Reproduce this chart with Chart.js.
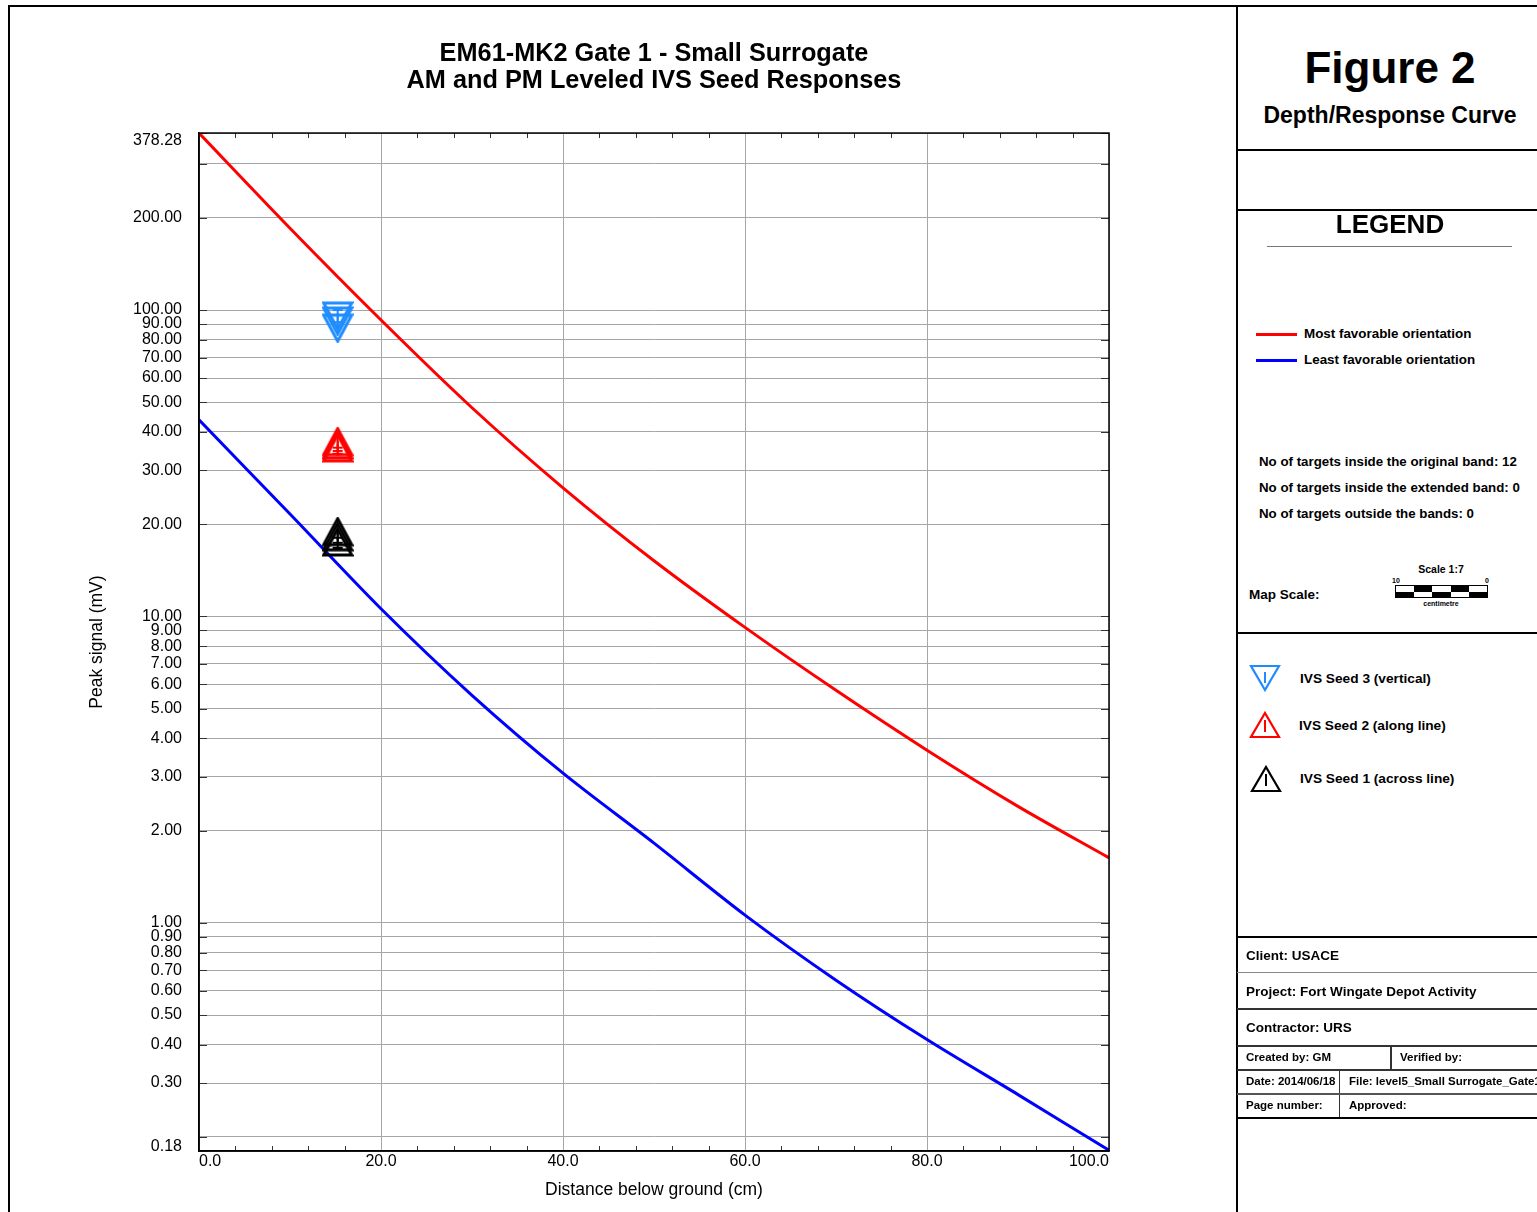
<!DOCTYPE html>
<html><head><meta charset="utf-8">
<script src="https://cdn.jsdelivr.net/npm/chart.js@4.4.1/dist/chart.umd.min.js"></script>
<style>
html,body{margin:0;padding:0;background:#fff;}
body{width:1537px;height:1212px;position:relative;overflow:hidden;font-family:"Liberation Sans",Arial,sans-serif;color:#000;}
#c{position:absolute;left:0;top:0;}
.ln{position:absolute;background:#000;}
.t{position:absolute;font-weight:bold;white-space:nowrap;line-height:1.15;transform:translateY(-50%);}
.tc{position:absolute;font-weight:bold;white-space:nowrap;line-height:1.15;transform:translate(-50%,-50%);}
.sb{position:absolute;width:18.2px;height:5.5px;}
</style></head>
<body>
<canvas id="c" width="1237" height="1212"></canvas>

<!-- frame -->
<div class="ln" style="left:8px;top:5px;width:1.5px;height:1207px;"></div>
<div class="ln" style="left:8px;top:5px;width:1529px;height:1.5px;"></div>
<div class="ln" style="left:1236px;top:5px;width:2px;height:1207px;"></div>

<!-- right panel -->
<div class="tc" style="left:1390px;top:68px;font-size:44px;">Figure 2</div>
<div class="tc" style="left:1390px;top:115px;font-size:23px;">Depth/Response Curve</div>
<div class="ln" style="left:1237px;top:149px;width:300px;height:2px;"></div>
<div class="ln" style="left:1237px;top:209px;width:300px;height:2px;"></div>
<div class="tc" style="left:1390px;top:225px;font-size:26px;">LEGEND</div>
<div class="ln" style="left:1267px;top:246px;width:245px;height:1px;background:#777;"></div>

<div class="ln" style="left:1256px;top:332.5px;width:41px;height:3px;background:#ff0000;"></div>
<div class="t" style="left:1304px;top:334px;font-size:13.4px;">Most favorable orientation</div>
<div class="ln" style="left:1256px;top:358.5px;width:41px;height:3px;background:#0000ff;"></div>
<div class="t" style="left:1304px;top:360px;font-size:13.4px;">Least favorable orientation</div>

<div class="t" style="left:1259px;top:462px;font-size:13.3px;">No of targets inside the original band: 12</div>
<div class="t" style="left:1259px;top:488px;font-size:13.3px;">No of targets inside the extended band: 0</div>
<div class="t" style="left:1259px;top:514px;font-size:13.3px;">No of targets outside the bands: 0</div>

<div class="tc" style="left:1441px;top:569px;font-size:10.5px;">Scale 1:7</div>
<div class="tc" style="left:1396px;top:581px;font-size:7px;">10</div>
<div class="tc" style="left:1487px;top:581px;font-size:7px;">0</div>
<div style="position:absolute;left:1395px;top:585px;width:91px;height:11px;border:1px solid #000;">
  <div class="sb" style="left:0;top:0;background:#fff;"></div>
  <div class="sb" style="left:18.2px;top:0;background:#000;"></div>
  <div class="sb" style="left:36.4px;top:0;background:#fff;"></div>
  <div class="sb" style="left:54.6px;top:0;background:#000;"></div>
  <div class="sb" style="left:72.8px;top:0;background:#fff;"></div>
  <div class="sb" style="left:0;top:5.5px;background:#000;"></div>
  <div class="sb" style="left:18.2px;top:5.5px;background:#fff;"></div>
  <div class="sb" style="left:36.4px;top:5.5px;background:#000;"></div>
  <div class="sb" style="left:54.6px;top:5.5px;background:#fff;"></div>
  <div class="sb" style="left:72.8px;top:5.5px;background:#000;"></div>
</div>
<div class="tc" style="left:1441px;top:604px;font-size:7px;">centimetre</div>
<div class="t" style="left:1249px;top:595px;font-size:13.5px;">Map Scale:</div>
<div class="ln" style="left:1237px;top:632px;width:300px;height:2px;"></div>

<svg style="position:absolute;left:1249px;top:664px;" width="32" height="28">
  <polygon points="2,2 30,2 16,26" fill="none" stroke="#1e8cff" stroke-width="2.2"/>
  <line x1="16" y1="8" x2="16" y2="19" stroke="#1e8cff" stroke-width="2"/>
</svg>
<div class="t" style="left:1300px;top:679px;font-size:13.7px;">IVS Seed 3 (vertical)</div>
<svg style="position:absolute;left:1249px;top:711px;" width="32" height="28">
  <polygon points="16,2 30,26 2,26" fill="none" stroke="#ff0000" stroke-width="2.2"/>
  <line x1="16" y1="9" x2="16" y2="21" stroke="#ff0000" stroke-width="2"/>
</svg>
<div class="t" style="left:1299px;top:726px;font-size:13.7px;">IVS Seed 2 (along line)</div>
<svg style="position:absolute;left:1250px;top:765px;" width="32" height="28">
  <polygon points="16,2 30,26 2,26" fill="none" stroke="#000" stroke-width="2.2"/>
  <line x1="16" y1="9" x2="16" y2="21" stroke="#000" stroke-width="2"/>
</svg>
<div class="t" style="left:1300px;top:779px;font-size:13.7px;">IVS Seed 1 (across line)</div>

<div class="ln" style="left:1237px;top:936px;width:300px;height:2px;"></div>
<div class="t" style="left:1246px;top:956px;font-size:13.5px;">Client: USACE</div>
<div class="ln" style="left:1237px;top:972px;width:300px;height:1px;background:#888;"></div>
<div class="t" style="left:1246px;top:992px;font-size:13.5px;">Project: Fort Wingate Depot Activity</div>
<div class="ln" style="left:1237px;top:1008px;width:300px;height:1.5px;background:#333;"></div>
<div class="t" style="left:1246px;top:1028px;font-size:13.5px;">Contractor: URS</div>
<div class="ln" style="left:1237px;top:1045px;width:300px;height:1.5px;background:#333;"></div>
<div class="t" style="left:1246px;top:1058px;font-size:11.5px;">Created by: GM</div>
<div class="ln" style="left:1390px;top:1045px;width:1.5px;height:25px;background:#333;"></div>
<div class="t" style="left:1400px;top:1058px;font-size:11.5px;">Verified by:</div>
<div class="ln" style="left:1237px;top:1069px;width:300px;height:1.5px;background:#333;"></div>
<div class="t" style="left:1246px;top:1082px;font-size:11.5px;">Date: 2014/06/18</div>
<div class="ln" style="left:1338.5px;top:1069px;width:1.5px;height:49px;background:#333;"></div>
<div style="position:absolute;left:1340px;top:1070px;width:197px;height:24px;overflow:hidden;">
  <div class="t" style="left:9px;top:12px;font-size:11.5px;">File: level5_Small Surrogate_Gate1</div>
</div>
<div class="ln" style="left:1237px;top:1093px;width:300px;height:1.5px;background:#555;"></div>
<div class="t" style="left:1246px;top:1106px;font-size:11.5px;">Page number:</div>
<div class="t" style="left:1349px;top:1106px;font-size:11.5px;">Approved:</div>
<div class="ln" style="left:1237px;top:1117px;width:300px;height:2px;"></div>

<script>
// ---------- data ----------
const depthCm = [0, 10, 20, 30, 40, 50, 60, 70, 80, 90, 100];
const mostFavorable = [378.28, 185, 92.8, 48.0, 26.3, 15.2, 9.21, 5.74, 3.66, 2.40, 1.63];
const leastFavorable = [43.8, 21.6, 10.6, 5.53, 3.08, 1.82, 1.06, 0.65, 0.416, 0.275, 0.181];

const seedDepth = [15.24, 15.24, 15.24];
const seed3Vertical = [95.6, 92.1, 87.3];
const seed2AlongLine = [37.2, 36.3, 35.5];
const seed1AcrossLine = [18.9, 18.2, 17.5];

const xTickValues = [0, 20, 40, 60, 80, 100];
const xTickLabels = ['0.0', '20.0', '40.0', '60.0', '80.0', '100.0'];
const xMinorTicks = [4, 8, 12, 16, 24, 28, 32, 36, 44, 48, 52, 56, 64, 68, 72, 76, 84, 88, 92, 96];
const yTickValues = [0.18, 0.2, 0.3, 0.4, 0.5, 0.6, 0.7, 0.8, 0.9, 1, 2, 3, 4, 5, 6, 7, 8, 9, 10, 20, 30, 40, 50, 60, 70, 80, 90, 100, 200, 300, 378.28];
const yTickLabels = ['0.18', '', '0.30', '0.40', '0.50', '0.60', '0.70', '0.80', '0.90', '1.00', '2.00', '3.00', '4.00', '5.00', '6.00', '7.00', '8.00', '9.00', '10.00', '20.00', '30.00', '40.00', '50.00', '60.00', '70.00', '80.00', '90.00', '100.00', '200.00', '', '378.28'];

// ---------- marker glyphs ----------
function triGlyph(color, down) {
  const c = document.createElement('canvas');
  c.width = 32; c.height = 30;
  const g = c.getContext('2d');
  g.strokeStyle = color; g.lineWidth = 3; g.lineJoin = 'miter';
  g.beginPath();
  if (down) { g.moveTo(2, 2); g.lineTo(30, 2); g.lineTo(16, 28); }
  else { g.moveTo(16, 2); g.lineTo(30, 28); g.lineTo(2, 28); }
  g.closePath(); g.stroke();
  g.lineWidth = 2;
  g.beginPath();
  if (down) { g.moveTo(16, 7); g.lineTo(16, 19); g.moveTo(11, 9); g.lineTo(21, 9); }
  else { g.moveTo(16, 11); g.lineTo(16, 23); g.moveTo(11, 21); g.lineTo(21, 21); }
  g.stroke();
  return c;
}

const pts = (xs, ys) => xs.map((x, i) => ({x: x, y: ys[i]}));

Chart.defaults.font.family = "'Liberation Sans', Arial, sans-serif";
Chart.defaults.color = '#000';

const innerTicks = {
  id: 'innerTicks',
  beforeDatasetsDraw(chart) {
    const {ctx, chartArea: a, scales: {x, y}} = chart;
    ctx.save();
    ctx.strokeStyle = '#333';
    ctx.lineWidth = 1;
    ctx.beginPath();
    yTickValues.forEach(v => {
      const py = Math.round(y.getPixelForValue(v)) + 0.5;
      ctx.moveTo(a.left, py); ctx.lineTo(a.left + 8, py);
      ctx.moveTo(a.right - 8, py); ctx.lineTo(a.right, py);
    });
    xMinorTicks.forEach(v => {
      const px = Math.round(x.getPixelForValue(v)) + 0.5;
      ctx.moveTo(px, a.bottom); ctx.lineTo(px, a.bottom - 5);
      ctx.moveTo(px, a.top); ctx.lineTo(px, a.top + 5);
    });
    ctx.stroke();
    ctx.restore();
  },
  afterDatasetsDraw(chart) {
    const {ctx, chartArea: a} = chart;
    ctx.save();
    ctx.strokeStyle = '#000';
    ctx.lineWidth = 1.5;
    ctx.strokeRect(a.left, a.top, a.right - a.left, a.bottom - a.top);
    ctx.restore();
  }
};

const lastY = yTickValues.length - 1;

new Chart(document.getElementById('c'), {
  type: 'scatter',
  data: {
    datasets: [
      {label: 'IVS Seed 3 (vertical)', data: pts(seedDepth, seed3Vertical), pointStyle: triGlyph('#1e8cff', true), order: 0},
      {label: 'IVS Seed 2 (along line)', data: pts(seedDepth, seed2AlongLine), pointStyle: triGlyph('#ff0000', false), order: 0},
      {label: 'IVS Seed 1 (across line)', data: pts(seedDepth, seed1AcrossLine), pointStyle: triGlyph('#000000', false), order: 0},
      {label: 'Most favorable orientation', data: pts(depthCm, mostFavorable), showLine: true, borderColor: '#ff0000', borderWidth: 3, pointRadius: 0, tension: 0.3, order: 1},
      {label: 'Least favorable orientation', data: pts(depthCm, leastFavorable), showLine: true, borderColor: '#0000ff', borderWidth: 3, pointRadius: 0, tension: 0.3, order: 1}
    ]
  },
  options: {
    responsive: false,
    animation: false,
    layout: {padding: {left: 0, right: 128, top: 0, bottom: 0}},
    plugins: {
      legend: {display: false},
      tooltip: {enabled: false},
      title: {
        display: true,
        fullSize: false,
        text: ['EM61-MK2 Gate 1 - Small Surrogate', 'AM and PM Leveled IVS Seed Responses'],
        font: {size: 25.3, weight: 'bold', lineHeight: 1.07},
        color: '#000',
        padding: {top: 40.5, bottom: 38.4}
      }
    },
    scales: {
      x: {
        type: 'linear', min: 0, max: 100,
        afterBuildTicks: s => { s.ticks = xTickValues.map(v => ({value: v})); },
        afterFit: s => { s.height = 61; },
        ticks: {align: 'inner', autoSkip: false, maxRotation: 0, padding: 1, font: {size: 16},
                callback: (v, i) => xTickLabels[i]},
        grid: {color: '#a6a6a6', lineWidth: 1, drawTicks: false},
        border: {display: true, color: '#000', width: 1.5},
        title: {display: true, text: 'Distance below ground (cm)', font: {size: 17.5}, padding: {top: 0, bottom: 11.5}}
      },
      y: {
        type: 'logarithmic', min: 0.18, max: 378.28,
        afterBuildTicks: s => { s.ticks = yTickValues.map(v => ({value: v})); },
        afterFit: s => { s.width = 199; },
        ticks: {
          autoSkip: false, padding: 17,
          font: c => ({size: 16, lineHeight: c.index === 0 ? 0.5 : (c.index === lastY ? 1.0 : 1.2)}),
          callback: (v, i) => i === 0 ? [yTickLabels[i], ''] : (i === lastY ? ['', yTickLabels[i]] : yTickLabels[i])
        },
        grid: {color: '#a6a6a6', lineWidth: 1, drawTicks: false},
        border: {display: true, color: '#000', width: 1.5},
        title: {display: true, text: 'Peak signal (mV)', font: {size: 17.5}, padding: {top: 87, bottom: 0}}
      }
    }
  },
  plugins: [innerTicks]
});
</script>
</body></html>
